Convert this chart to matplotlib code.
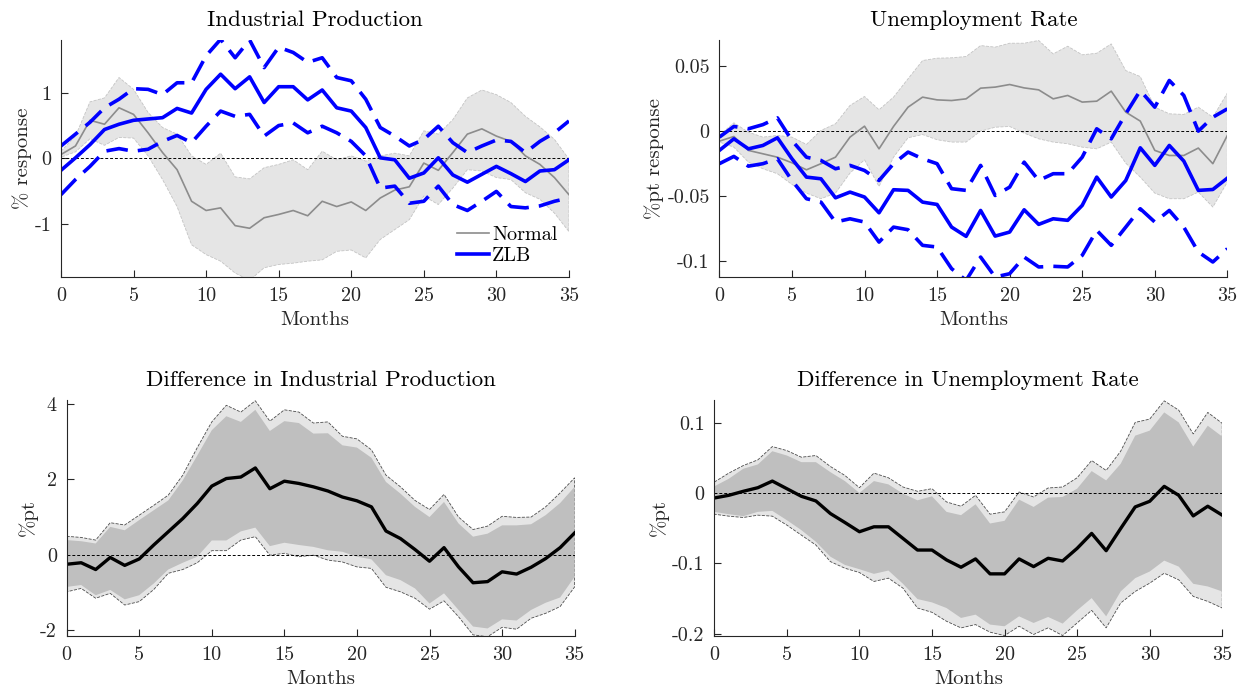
import numpy as np
import matplotlib
matplotlib.use('Agg')
import matplotlib.pyplot as plt

plt.rcParams['font.family'] = 'cmr10'
plt.rcParams['mathtext.fontset'] = 'cm'
plt.rcParams['axes.unicode_minus'] = False

months = np.arange(36)

# Industrial production: normal times (grey) and ZLB (blue)
ip_normal = [0.06, 0.19, 0.58, 0.52, 0.77, 0.67, 0.39, 0.09, -0.17, -0.65, -0.79, -0.75,
             -1.02, -1.06, -0.90, -0.85, -0.79, -0.87, -0.65, -0.73, -0.66, -0.79, -0.60, -0.48,
             -0.43, -0.07, -0.18, 0.09, 0.37, 0.45, 0.34, 0.26, 0.04, -0.09, -0.29, -0.55]
ip_normal_hi = [0.11, 0.34, 0.86, 0.92, 1.23, 1.05, 0.70, 0.47, 0.37, 0.04, -0.09, 0.08,
                -0.28, -0.31, -0.14, -0.09, -0.02, -0.17, 0.11, -0.02, 0.04, -0.04, 0.04, 0.08,
                0.04, 0.42, 0.37, 0.59, 0.92, 1.04, 0.97, 0.85, 0.64, 0.48, 0.29, -0.01]
ip_normal_lo = [0.02, 0.10, 0.30, 0.20, 0.32, 0.31, 0.04, -0.32, -0.73, -1.31, -1.46, -1.56,
                -1.74, -1.85, -1.66, -1.61, -1.59, -1.56, -1.54, -1.41, -1.39, -1.51, -1.23, -1.08,
                -0.93, -0.57, -0.70, -0.45, -0.17, -0.19, -0.29, -0.32, -0.52, -0.62, -0.83, -1.11]
ip_zlb = [-0.18, 0.01, 0.21, 0.44, 0.52, 0.58, 0.60, 0.62, 0.76, 0.69, 1.05, 1.28,
          1.06, 1.24, 0.85, 1.09, 1.09, 0.89, 1.04, 0.77, 0.72, 0.47, 0.01, -0.02,
          -0.30, -0.22, 0.01, -0.25, -0.36, -0.24, -0.12, -0.23, -0.35, -0.19, -0.17, -0.02]
ip_zlb_hi = [0.19, 0.37, 0.55, 0.77, 0.90, 1.06, 1.05, 0.97, 1.15, 1.15, 1.56, 1.81,
             1.53, 1.80, 1.38, 1.69, 1.61, 1.46, 1.53, 1.23, 1.18, 0.90, 0.47, 0.34,
             0.19, 0.29, 0.49, 0.24, 0.09, 0.19, 0.28, 0.26, 0.09, 0.26, 0.39, 0.57]
ip_zlb_lo = [-0.55, -0.32, -0.12, 0.11, 0.15, 0.11, 0.14, 0.26, 0.35, 0.24, 0.49, 0.72,
             0.64, 0.67, 0.34, 0.50, 0.54, 0.39, 0.49, 0.39, 0.26, 0.04, -0.45, -0.42,
             -0.68, -0.65, -0.42, -0.70, -0.79, -0.65, -0.50, -0.73, -0.75, -0.72, -0.65, -0.60]

# Unemployment rate
ur_normal = [-0.0077, -0.0041, -0.0148, -0.0174, -0.0200, -0.0243, -0.0297, -0.0250, -0.0200,
             -0.0046, 0.0038, -0.0136, 0.0036, 0.0184, 0.0261, 0.0240, 0.0235, 0.0248, 0.0330,
             0.0338, 0.0358, 0.0332, 0.0317, 0.0248, 0.0274, 0.0223, 0.0230, 0.0307, 0.0146,
             0.0077, -0.0148, -0.0187, -0.0187, -0.0130, -0.0250, -0.0033]
ur_normal_hi = [-0.0033, 0.0064, -0.0008, -0.0046, -0.0033, -0.0046, -0.0102, 0.0005, 0.0056,
                0.0197, 0.0266, 0.0164, 0.0261, 0.0402, 0.0542, 0.0560, 0.0563, 0.0573, 0.0657,
                0.0645, 0.0675, 0.0675, 0.0696, 0.0593, 0.0652, 0.0586, 0.0598, 0.0670, 0.0465,
                0.0419, 0.0184, 0.0133, 0.0128, 0.0184, 0.0107, 0.0292]
ur_normal_lo = [-0.0084, -0.0123, -0.0238, -0.0289, -0.0327, -0.0409, -0.0476, -0.0519, -0.0476,
                -0.0322, -0.0220, -0.0425, -0.0200, -0.0051, -0.0026, -0.0066, -0.0084, -0.0084,
                0.0000, 0.0030, 0.0036, -0.0015, -0.0059, -0.0084, -0.0097, -0.0123, -0.0136,
                -0.0084, -0.0246, -0.0353, -0.0476, -0.0519, -0.0519, -0.0468, -0.0583, -0.0391]
ur_zlb = [-0.0148, -0.0059, -0.0136, -0.0110, -0.0051, -0.0212, -0.0353, -0.0366, -0.0512,
          -0.0468, -0.0506, -0.0627, -0.0450, -0.0455, -0.0545, -0.0563, -0.0737, -0.0808,
          -0.0609, -0.0806, -0.0775, -0.0604, -0.0716, -0.0673, -0.0685, -0.0570, -0.0353,
          -0.0506, -0.0379, -0.0128, -0.0263, -0.0110, -0.0230, -0.0455, -0.0448, -0.0361]
ur_zlb_hi = [-0.0046, 0.0036, 0.0018, 0.0050, 0.0102, -0.0072, -0.0200, -0.0225, -0.0289,
             -0.0263, -0.0302, -0.0379, -0.0250, -0.0161, -0.0212, -0.0250, -0.0442, -0.0455,
             -0.0263, -0.0494, -0.0430, -0.0238, -0.0379, -0.0327, -0.0327, -0.0200, 0.0018,
             -0.0059, 0.0133, 0.0312, 0.0184, 0.0389, 0.0274, 0.0000, 0.0107, 0.0171]
ur_zlb_lo = [-0.0250, -0.0194, -0.0269, -0.0250, -0.0212, -0.0379, -0.0519, -0.0545, -0.0698,
             -0.0673, -0.0698, -0.0852, -0.0737, -0.0757, -0.0877, -0.0890, -0.1056, -0.1146,
             -0.0967, -0.1120, -0.1095, -0.0967, -0.1043, -0.1038, -0.1043, -0.0954, -0.0762,
             -0.0877, -0.0737, -0.0596, -0.0698, -0.0609, -0.0737, -0.0928, -0.1005, -0.0903]

# Difference ZLB - normal, industrial production
d_ip = [-0.25, -0.21, -0.39, -0.07, -0.28, -0.11, 0.26, 0.61, 0.96, 1.36, 1.82, 2.02,
        2.06, 2.30, 1.75, 1.95, 1.89, 1.80, 1.69, 1.53, 1.43, 1.27, 0.63, 0.43,
        0.14, -0.17, 0.19, -0.32, -0.74, -0.71, -0.45, -0.51, -0.33, -0.10, 0.19, 0.58]
d_ip_hi90 = [0.49, 0.46, 0.39, 0.85, 0.79, 1.05, 1.31, 1.58, 2.11, 2.84, 3.52, 3.96,
             3.78, 4.08, 3.54, 3.84, 3.78, 3.49, 3.52, 3.14, 3.07, 2.78, 2.11, 1.80,
             1.44, 1.20, 1.60, 1.00, 0.67, 0.76, 1.02, 0.99, 1.00, 1.27, 1.64, 2.04]
d_ip_hi = [0.39, 0.36, 0.30, 0.74, 0.65, 0.92, 1.18, 1.44, 1.97, 2.63, 3.30, 3.67,
           3.52, 3.84, 3.28, 3.54, 3.49, 3.21, 3.22, 2.90, 2.84, 2.57, 1.93, 1.62,
           1.27, 1.00, 1.40, 0.83, 0.48, 0.56, 0.78, 0.78, 0.81, 1.05, 1.37, 1.80]
d_ip_lo = [-0.85, -0.80, -1.07, -0.93, -1.18, -1.07, -0.76, -0.39, -0.21, -0.05, 0.38, 0.38,
           0.62, 0.72, 0.23, 0.32, 0.26, 0.21, 0.12, 0.08, -0.05, -0.12, -0.54, -0.67,
           -0.89, -1.29, -1.02, -1.46, -1.90, -1.95, -1.71, -1.74, -1.46, -1.27, -1.13, -0.58]
d_ip_lo90 = [-0.98, -0.89, -1.15, -1.02, -1.33, -1.24, -0.92, -0.49, -0.39, -0.21, 0.11, 0.11,
             0.39, 0.48, -0.01, 0.04, -0.05, -0.01, -0.14, -0.19, -0.32, -0.36, -0.86, -0.98,
             -1.15, -1.44, -1.22, -1.64, -2.12, -2.17, -1.92, -1.97, -1.68, -1.55, -1.37, -0.85]

# Difference ZLB - normal, unemployment rate
d_ur = [-0.0071, -0.0033, 0.0024, 0.0075, 0.0169, 0.0061, -0.0047, -0.0113, -0.0292, -0.0419,
        -0.0550, -0.0480, -0.0480, -0.0645, -0.0810, -0.0810, -0.0950, -0.1054, -0.0936, -0.1148,
        -0.1148, -0.0936, -0.1045, -0.0927, -0.0965, -0.0786, -0.0574, -0.0819, -0.0504, -0.0198,
        -0.0118, 0.0094, -0.0033, -0.0325, -0.0188, -0.0315]
d_ur_hi90 = [0.0155, 0.0282, 0.0390, 0.0470, 0.0659, 0.0602, 0.0508, 0.0532, 0.0376, 0.0249,
             0.0075, 0.0282, 0.0216, 0.0085, 0.0024, 0.0061, -0.0127, -0.0188, -0.0033, -0.0301,
             -0.0268, 0.0014, -0.0056, 0.0071, 0.0085, 0.0216, 0.0461, 0.0320, 0.0593, 0.1002,
             0.1049, 0.1308, 0.1176, 0.0838, 0.1144, 0.0988]
d_ur_hi = [0.0094, 0.0202, 0.0344, 0.0405, 0.0593, 0.0532, 0.0438, 0.0438, 0.0296, 0.0169,
           0.0000, 0.0169, 0.0122, -0.0009, -0.0104, -0.0047, -0.0268, -0.0315, -0.0160, -0.0433,
           -0.0395, -0.0094, -0.0198, -0.0066, -0.0056, 0.0061, 0.0311, 0.0179, 0.0414, 0.0814,
           0.0885, 0.1144, 0.1002, 0.0659, 0.0955, 0.0800]
d_ur_lo = [-0.0268, -0.0301, -0.0329, -0.0268, -0.0254, -0.0386, -0.0527, -0.0692, -0.0904, -0.1021,
           -0.1082, -0.1148, -0.1101, -0.1289, -0.1506, -0.1553, -0.1633, -0.1774, -0.1727, -0.1868,
           -0.1892, -0.1751, -0.1845, -0.1760, -0.1854, -0.1666, -0.1492, -0.1751, -0.1398, -0.1209,
           -0.1115, -0.0960, -0.1045, -0.1289, -0.1327, -0.1398]
d_ur_lo90 = [-0.0301, -0.0329, -0.0348, -0.0315, -0.0329, -0.0456, -0.0598, -0.0739, -0.0974, -0.1068,
             -0.1129, -0.1256, -0.1209, -0.1351, -0.1633, -0.1694, -0.1821, -0.1915, -0.1868, -0.1976,
             -0.2024, -0.1892, -0.2009, -0.1915, -0.2024, -0.1845, -0.1666, -0.1915, -0.1562, -0.1398,
             -0.1280, -0.1139, -0.1233, -0.1468, -0.1539, -0.1633]

AX_COL = '#262626'
LIGHT = '#e5e5e5'
DARK = '#bfbfbf'
BLUE = '#0000ff'


def band_poly(ax, lo, hi, face, edge, z):
    # closed polygon, hi forward then lo backward (as matlab fill)
    xs = np.concatenate([months, months[::-1]])
    ys = np.concatenate([np.array(hi), np.array(lo)[::-1]])
    ax.fill(xs, ys, facecolor=face, edgecolor=edge, linestyle='--', linewidth=0.6, zorder=z)


def style(ax, ylim, yticks, yticklabels, ylabel, title):
    ax.set_xlim(0, 35)
    ax.set_ylim(*ylim)
    ax.set_xticks(range(0, 36, 5))
    ax.set_yticks(yticks)
    ax.set_yticklabels(yticklabels)
    ax.spines['top'].set_visible(False)
    ax.spines['right'].set_visible(False)
    for s in ['left', 'bottom']:
        ax.spines[s].set_color(AX_COL)
        ax.spines[s].set_linewidth(0.8)
        ax.spines[s].set_zorder(6)
    ax.tick_params(direction='in', length=5, width=0.8, colors=AX_COL, labelsize=14.5, pad=7)
    ax.set_xlabel('Months', fontsize=15, color=AX_COL, labelpad=5)
    ax.set_ylabel(ylabel, fontsize=15, color=AX_COL, labelpad=2)
    ax.set_title(title, fontsize=16.5, color='black', pad=10)
    ax.axhline(0, color='k', ls='--', lw=0.7, dashes=(3, 2), zorder=3)


fig = plt.figure(figsize=(12.39, 6.88), dpi=100)
ax1 = fig.add_axes([0.0492, 0.5974, 0.4100, 0.3445])
ax2 = fig.add_axes([0.5806, 0.5974, 0.4100, 0.3445])
ax3 = fig.add_axes([0.0538, 0.0756, 0.4100, 0.3430])
ax4 = fig.add_axes([0.5765, 0.0756, 0.4100, 0.3430])

# top left
band_poly(ax1, ip_normal_lo, ip_normal_hi, LIGHT, '#c4c4c4', 1)
ln_n, = ax1.plot(months, ip_normal, color='#8c8c8c', lw=1.2, zorder=4, label='Normal')
ln_z, = ax1.plot(months, ip_zlb, color=BLUE, lw=2.6, zorder=5, label='ZLB')
ax1.plot(months, ip_zlb_hi, color=BLUE, lw=2.6, dashes=(6, 2.8), zorder=5)
ax1.plot(months, ip_zlb_lo, color=BLUE, lw=2.6, dashes=(6, 2.8), zorder=5)
style(ax1, (-1.8, 1.8), [-1, 0, 1], ['-1', '0', '1'], '% response', 'Industrial Production')
ax1.legend(handles=[ln_n, ln_z], loc='lower right', frameon=False, fontsize=14.5,
           handlelength=1.6, handletextpad=0.15, labelspacing=0.15,
           bbox_to_anchor=(1.013, -0.026))

# top right
band_poly(ax2, ur_normal_lo, ur_normal_hi, LIGHT, '#c4c4c4', 1)
ax2.plot(months, ur_normal, color='#8c8c8c', lw=1.2, zorder=4)
ax2.plot(months, ur_zlb, color=BLUE, lw=2.6, zorder=5)
ax2.plot(months, ur_zlb_hi, color=BLUE, lw=2.6, dashes=(6, 2.8), zorder=5)
ax2.plot(months, ur_zlb_lo, color=BLUE, lw=2.6, dashes=(6, 2.8), zorder=5)
style(ax2, (-0.112, 0.07), [-0.1, -0.05, 0, 0.05], ['-0.1', '-0.05', '0', '0.05'],
      '%pt response', 'Unemployment Rate')

# bottom left
band_poly(ax3, d_ip_lo90, d_ip_hi90, LIGHT, '#4d4d4d', 1)
ax3.fill_between(months, d_ip_lo, d_ip_hi, facecolor=DARK, edgecolor='none', zorder=2)
ax3.plot(months, d_ip, color='k', lw=2.4, zorder=5)
style(ax3, (-2.15, 4.1), [-2, 0, 2, 4], ['-2', '0', '2', '4'], '%pt',
      'Difference in Industrial Production')

# bottom right
band_poly(ax4, d_ur_lo90, d_ur_hi90, LIGHT, '#4d4d4d', 1)
ax4.fill_between(months, d_ur_lo, d_ur_hi, facecolor=DARK, edgecolor='none', zorder=2)
ax4.plot(months, d_ur, color='k', lw=2.4, zorder=5)
style(ax4, (-0.203, 0.132), [-0.2, -0.1, 0, 0.1], ['-0.2', '-0.1', '0', '0.1'], '%pt',
      'Difference in Unemployment Rate')

fig.savefig('out.png', dpi=100)
